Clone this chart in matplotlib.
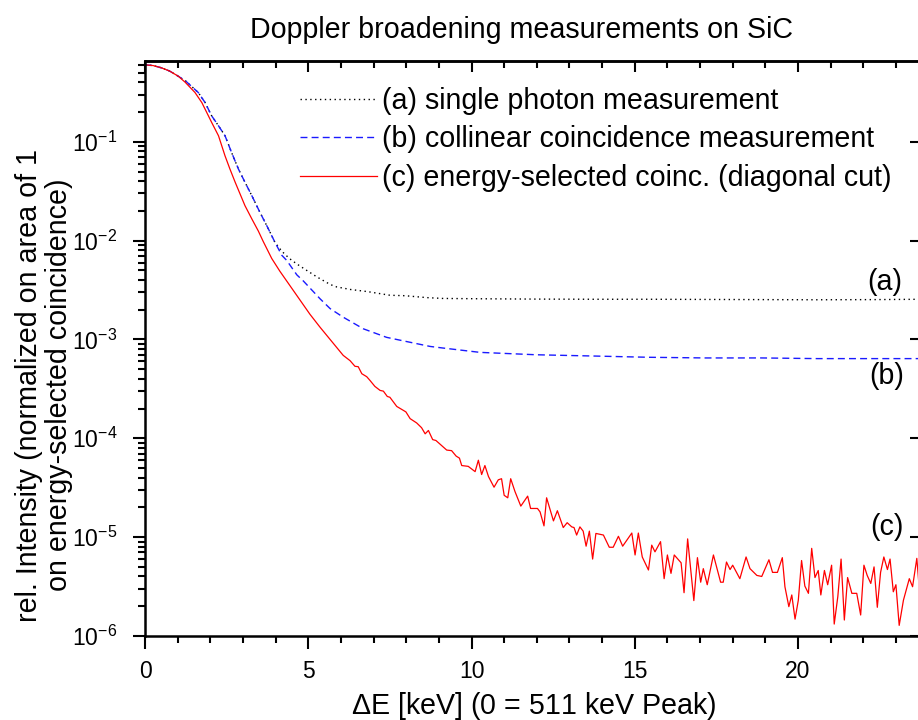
import matplotlib
matplotlib.use('Agg')
import matplotlib.pyplot as plt
from matplotlib.ticker import MultipleLocator, LogLocator, NullFormatter

plt.rcParams['font.family'] = ['Liberation Sans', 'DejaVu Sans']
plt.rcParams['mathtext.default'] = 'regular'
plt.rcParams['axes.unicode_minus'] = False

# (a) single photon measurement
single_e = [0.0, 0.25, 0.5, 0.75, 1.02, 1.25, 1.63, 1.84, 2.04, 2.25, 2.45, 2.65,
            2.86, 3.06, 3.27, 3.52, 3.78, 3.98, 4.19, 4.42, 4.65, 4.95, 5.26, 5.67,
            5.87, 6.3, 6.81, 7.50, 7.96, 8.63, 9.11, 10.26, 11.98, 13.71, 15.44,
            17.15, 18.87, 20.6, 22.3, 23.8]
single_i = [0.60, 0.59, 0.56, 0.52, 0.46, 0.41, 0.315, 0.249, 0.183, 0.145, 0.115,
            0.078, 0.053, 0.039, 0.0285, 0.0193, 0.0131, 0.0096, 0.0078, 0.0066,
            0.0058, 0.0050, 0.0043, 0.0036, 0.0034, 0.0032, 0.00305, 0.0028,
            0.00277, 0.00265, 0.0026, 0.00258, 0.00256, 0.00255, 0.00255, 0.00254,
            0.00253, 0.00252, 0.00253, 0.00255]

# (b) collinear coincidence measurement
coll_e = [0.0, 0.25, 0.5, 0.75, 1.02, 1.25, 1.63, 1.84, 2.04, 2.25, 2.45, 2.65,
          2.86, 3.06, 3.27, 3.52, 3.78, 3.98, 4.19, 4.34, 4.65, 4.85, 5.36, 5.67,
          6.07, 6.69, 7.40, 7.96, 8.73, 9.11, 10.26, 11.98, 13.71, 15.44, 17.15,
          18.87, 20.6, 22.3, 23.8]
coll_i = [0.60, 0.59, 0.56, 0.52, 0.46, 0.41, 0.315, 0.249, 0.183, 0.145, 0.115,
          0.078, 0.053, 0.039, 0.0285, 0.0193, 0.0131, 0.0096, 0.0071, 0.0063,
          0.0045, 0.0039, 0.00258, 0.00205, 0.00168, 0.00128, 0.00105, 9.6e-4,
          8.5e-4, 8.2e-4, 7.4e-4, 7.0e-4, 6.8e-4, 6.6e-4, 6.5e-4, 6.5e-4, 6.4e-4,
          6.4e-4, 6.4e-4]

# (c) energy-selected coincidence (diagonal cut)
esel_e = [0.0, 0.25, 0.5, 0.75, 1.02, 1.23, 1.53, 1.74, 2.04, 2.25, 2.45, 2.60,
          2.76, 2.91, 3.06, 3.27, 3.47, 3.62, 3.88, 4.13, 4.44, 4.75, 5.05, 5.36,
          5.67, 6.07, 6.28, 6.43, 6.53, 6.64, 6.79, 6.89, 7.04, 7.20, 7.30,
          7.42, 7.50, 7.71, 7.99, 8.12, 8.32, 8.47, 8.58, 8.68, 8.81, 8.91, 9.04,
          9.24, 9.39, 9.53, 9.63, 9.70, 9.90, 10.11, 10.21, 10.31, 10.41, 10.52,
          10.69, 10.82, 10.92, 11.0, 11.11, 11.2, 11.33, 11.51, 11.72, 11.81,
          12.02, 12.10, 12.22, 12.30, 12.51, 12.63, 12.81, 12.93, 13.07, 13.14,
          13.22, 13.32, 13.42, 13.51, 13.61, 13.71, 13.81, 14.04, 14.22, 14.34,
          14.50, 14.63, 14.91, 15.01, 15.11, 15.23, 15.42, 15.52, 15.62, 15.79,
          15.90, 16.0, 16.11, 16.21, 16.42, 16.51, 16.62, 16.81, 16.92, 17.02,
          17.10, 17.22, 17.41, 17.63, 17.71, 17.81, 17.92, 18.0, 18.22, 18.41,
          18.53, 18.74, 18.89, 19.11, 19.22, 19.37, 19.52, 19.60, 19.72, 19.81,
          19.91, 20.01, 20.11, 20.21, 20.32, 20.42, 20.52, 20.62, 20.70, 20.81,
          20.91, 21.03, 21.11, 21.22, 21.32, 21.42, 21.52, 21.65, 21.80, 21.92,
          22.02, 22.12, 22.23, 22.33, 22.43, 22.53, 22.63, 22.74, 22.82, 22.92,
          23.0, 23.10, 23.23, 23.41, 23.51, 23.64, 23.75]
esel_i = [0.60, 0.59, 0.56, 0.52, 0.46, 0.40, 0.315, 0.249, 0.157, 0.115, 0.072,
          0.053, 0.039, 0.0296, 0.0226, 0.0166, 0.0125, 0.0098, 0.0066, 0.0049,
          0.0035, 0.0025, 0.0018, 0.00133, 0.00100, 6.9e-4, 6.1e-4, 5.35e-4,
          5.3e-4, 4.5e-4, 4.2e-4, 3.85e-4, 3.35e-4, 3.05e-4, 3.0e-4, 2.65e-4,
          2.6e-4, 2.1e-4, 1.85e-4, 1.58e-4, 1.43e-4, 1.28e-4, 1.11e-4, 1.2e-4,
          9.7e-5, 9.5e-5, 8.7e-5, 7.6e-5, 7.5e-5, 6.6e-5, 6.3e-5, 5.3e-5, 5.2e-5,
          4.6e-5, 6.0e-5, 4.3e-5, 5.3e-5, 4.1e-5, 3.2e-5, 3.8e-5, 3.9e-5, 2.65e-5,
          2.5e-5, 3.9e-5, 2.9e-5, 2.06e-5, 2.6e-5, 1.95e-5, 1.95e-5, 1.8e-5,
          1.3e-5, 2.5e-5, 1.46e-5, 1.85e-5, 1.25e-5, 1.4e-5, 1.27e-5, 1.25e-5,
          1.05e-5, 1.27e-5, 1.15e-5, 8.1e-6, 1.15e-5, 6.0e-6, 1.09e-5, 1.05e-5,
          7.9e-6, 7.9e-6, 1.02e-5, 8.1e-6, 1.1e-5, 6.6e-6, 1.1e-5, 6.3e-6, 4.65e-6,
          8.3e-6, 7.1e-6, 9.0e-6, 3.8e-6, 6.6e-6, 4.3e-6, 6.6e-6, 5.5e-6, 2.74e-6,
          9.6e-6, 2.28e-6, 6.2e-6, 3.5e-6, 4.8e-6, 3.3e-6, 6.6e-6, 3.5e-6, 3.5e-6,
          5.6e-6, 4.7e-6, 5.2e-6, 3.8e-6, 6.3e-6, 4.8e-6, 4.1e-6, 4.0e-6, 5.9e-6,
          4.4e-6, 4.4e-6, 6.2e-6, 3.15e-6, 1.98e-6, 2.6e-6, 1.48e-6, 2.3e-6,
          5.8e-6, 3.2e-6, 2.7e-6, 7.7e-6, 3.9e-6, 4.6e-6, 2.6e-6, 4.6e-6, 3.3e-6,
          5.2e-6, 1.32e-6, 2.5e-6, 6.0e-6, 1.45e-6, 3.9e-6, 2.7e-6, 2.7e-6,
          1.63e-6, 5.2e-6, 4.1e-6, 3.4e-6, 5.0e-6, 1.95e-6, 4.4e-6, 6.3e-6,
          4.7e-6, 6.0e-6, 2.8e-6, 3.3e-6, 1.28e-6, 2.3e-6, 3.8e-6, 3.15e-6,
          6.1e-6, 2.2e-6]

labels = ['(a) single photon measurement',
          '(b) collinear coincidence measurement',
          '(c) energy-selected coinc. (diagonal cut)']

FS = 20.6

fig = plt.figure(figsize=(9.18, 7.2), dpi=100)
ax = fig.add_axes([0.158, 0.1167, 0.8464, 0.798])

ax.plot(single_e, single_i, color='black', lw=1.0, ls=(0, (1, 2.5)), label=labels[0])
ax.plot(coll_e, coll_i, color='#1a1aff', lw=1.0, ls=(0, (5, 3)), label=labels[1])
ax.plot(esel_e, esel_i, color='#ff0000', lw=0.9, label=labels[2])

ax.set_yscale('log')
ax.set_xlim(0, 23.8)
ax.set_ylim(1e-6, 0.65)

ax.xaxis.set_major_locator(MultipleLocator(5))
ax.xaxis.set_minor_locator(MultipleLocator(1))
ax.yaxis.set_major_locator(LogLocator(base=10, numticks=10))
ax.yaxis.set_minor_locator(LogLocator(base=10, subs=range(2, 10), numticks=20))
ax.yaxis.set_minor_formatter(NullFormatter())

ax.tick_params(axis='both', which='major', direction='out', length=9, width=1.5,
               labelsize=16.5, top=False, right=False)
ax.tick_params(axis='both', which='minor', direction='out', length=5, width=1.5,
               top=False, right=False)
ax.tick_params(axis='y', which='major', pad=11)
ax.tick_params(axis='x', which='major', pad=8)
for sp in ax.spines.values():
    sp.set_linewidth(1.8)

# inward ticks on top and right
top = ax.secondary_xaxis('top')
top.xaxis.set_major_locator(MultipleLocator(5))
top.xaxis.set_minor_locator(MultipleLocator(1))
top.tick_params(which='major', direction='in', length=8, width=1.5, labeltop=False)
top.tick_params(which='minor', direction='in', length=5, width=1.5)
top.spines['top'].set_linewidth(1.8)

right = ax.secondary_yaxis('right')
right.yaxis.set_major_locator(LogLocator(base=10, numticks=10))
right.yaxis.set_minor_locator(LogLocator(base=10, subs=range(2, 10), numticks=20))
right.tick_params(which='major', direction='in', length=9, width=1.5, labelright=False)
right.tick_params(which='minor', direction='in', length=3, width=1.5, labelright=False)
right.yaxis.set_minor_formatter(NullFormatter())

ax.text(23.2, 3.77e-3, '(a)', fontsize=FS, ha='right', va='center')
ax.text(23.25, 4.3e-4, '(b)', fontsize=FS, ha='right', va='center')
ax.text(23.25, 1.26e-5, '(c)', fontsize=FS, ha='right', va='center')

ax.legend(loc='upper left', bbox_to_anchor=(300 / 918, 1 - 87 / 720),
          bbox_transform=fig.transFigure, frameon=False, fontsize=FS,
          handlelength=2.7, handletextpad=0.15, labelspacing=0.36, borderpad=0,
          borderaxespad=0)

ax.set_xlabel(r'$\Delta$E [keV] (0 = 511 keV Peak)', fontsize=FS, labelpad=5)
fig.text(44 / 918, 1 - 385 / 720,
         'rel. Intensity (normalized on area of 1\non energy-selected coincidence)',
         fontsize=FS, rotation=90, ha='center', va='center', multialignment='center',
         linespacing=1.12)
fig.text(522 / 918, 1 - 30 / 720, 'Doppler broadening measurements on SiC',
         fontsize=FS, ha='center', va='center')

fig.savefig('out.png', dpi=100)
